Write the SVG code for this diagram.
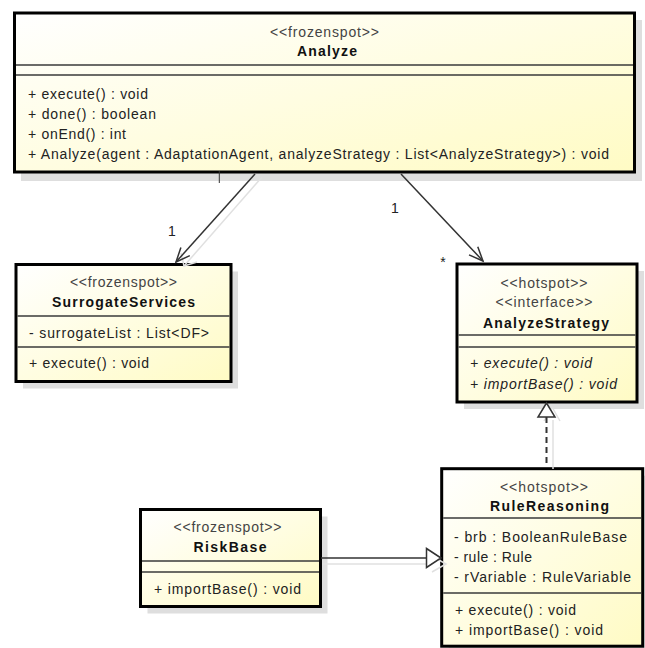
<svg xmlns="http://www.w3.org/2000/svg" width="645" height="648" viewBox="0 0 645 648">
<defs>
<linearGradient id="g" x1="0" y1="0" x2="1" y2="1"><stop offset="0" stop-color="#ffffff"/><stop offset="1" stop-color="#fffbc4"/></linearGradient>
<marker id="open" markerUnits="userSpaceOnUse" markerWidth="20" markerHeight="20" refX="0" refY="0" viewBox="-16 -10 20 20" orient="auto"><path d="M-14,-6 L0,0 L-14,6" fill="none" stroke="#333" stroke-width="1.5"/></marker>
</defs>
<style>
.box{fill:url(#g);stroke:#000;stroke-width:3}
.sh{fill:#dedede}
.sep{stroke:#3a3a3a;stroke-width:1.5}
text{font-family:"Liberation Sans",Arial,sans-serif;font-size:14px;fill:#222}
.st{fill:#444}
.nm{font-weight:bold;fill:#111}
.c{text-anchor:middle}
.it{font-style:italic}
.ln{fill:none;stroke:#333;stroke-width:1.5}
.gh{fill:none;stroke:#e0e0e0;stroke-width:1.5}
.tri{fill:#fff;stroke:#333;stroke-width:1.5}
</style>
<rect width="645" height="648" fill="#fff"/>
<g id="shadows">
<rect class="sh" x="21" y="20" width="621" height="161"/>
<rect class="sh" x="23" y="271.5" width="215" height="117"/>
<rect class="sh" x="464" y="271" width="180" height="138"/>
<rect class="sh" x="147.5" y="516.5" width="180" height="97"/>
<rect class="sh" x="448.7" y="475.7" width="201" height="177"/>
</g>
<g id="Analyze">
<rect class="box" x="14.5" y="13" width="620" height="159"/>
<line class="sep" x1="16" y1="65" x2="633" y2="65"/>
<line class="sep" x1="16" y1="75" x2="633" y2="75"/>
<text class="st c" x="324.5" y="37" textLength="109">&lt;&lt;frozenspot&gt;&gt;</text>
<text class="nm c" x="327" y="56" textLength="60">Analyze</text>
<text x="28" y="99" textLength="120">+ execute() : void</text>
<text x="28" y="119" textLength="128">+ done() : boolean</text>
<text x="28" y="139" textLength="98">+ onEnd() : int</text>
<text x="28" y="159" textLength="581">+ Analyze(agent : AdaptationAgent, analyzeStrategy : List&lt;AnalyzeStrategy&gt;) : void</text>
</g>
<g id="SurrogateServices">
<rect class="box" x="16" y="264.5" width="215" height="117"/>
<line class="sep" x1="17.5" y1="316" x2="229.5" y2="316"/>
<line class="sep" x1="17.5" y1="347" x2="229.5" y2="347"/>
<text class="st c" x="123.5" y="287" textLength="107">&lt;&lt;frozenspot&gt;&gt;</text>
<text class="nm c" x="123.5" y="307" textLength="143">SurrogateServices</text>
<text x="29" y="338" textLength="180">- surrogateList : List&lt;DF&gt;</text>
<text x="29" y="368" textLength="120">+ execute() : void</text>
</g>
<g id="AnalyzeStrategy">
<rect class="box" x="457" y="264" width="180" height="138"/>
<line class="sep" x1="458.5" y1="335" x2="635.5" y2="335"/>
<line class="sep" x1="458.5" y1="347" x2="635.5" y2="347"/>
<text class="st c" x="544" y="288" textLength="87">&lt;&lt;hotspot&gt;&gt;</text>
<text class="st c" x="544" y="307" textLength="97">&lt;&lt;interface&gt;&gt;</text>
<text class="nm c" x="546" y="328" textLength="126">AnalyzeStrategy</text>
<text class="it" x="470" y="368" textLength="122">+ execute() : void</text>
<text class="it" x="470" y="389" textLength="147">+ importBase() : void</text>
</g>
<g id="RiskBase">
<rect class="box" x="140.5" y="509.5" width="180" height="97"/>
<line class="sep" x1="142" y1="561" x2="319" y2="561"/>
<line class="sep" x1="142" y1="572" x2="319" y2="572"/>
<text class="st c" x="227.5" y="532" textLength="108">&lt;&lt;frozenspot&gt;&gt;</text>
<text class="nm c" x="230" y="552" textLength="73">RiskBase</text>
<text x="154" y="594" textLength="147">+ importBase() : void</text>
</g>
<g id="RuleReasoning">
<rect class="box" x="441.7" y="468.7" width="201" height="177.5"/>
<line class="sep" x1="443.2" y1="518" x2="641.2" y2="518"/>
<line class="sep" x1="443.2" y1="593" x2="641.2" y2="593"/>
<text class="st c" x="544" y="492" textLength="88">&lt;&lt;hotspot&gt;&gt;</text>
<text class="nm c" x="549.5" y="511" textLength="119">RuleReasoning</text>
<text x="454" y="542" textLength="173">- brb : BooleanRuleBase</text>
<text x="454" y="562" textLength="78">- rule : Rule</text>
<text x="454" y="582" textLength="177">- rVariable : RuleVariable</text>
<text x="455" y="615" textLength="121">+ execute() : void</text>
<text x="455" y="635" textLength="148">+ importBase() : void</text>
</g>
<g id="connectors">
<line class="gh" x1="262" y1="177" x2="184" y2="266"/>
<path class="gh" d="M181,253 L184,266 L197,262"/>
<line class="ln" x1="255" y1="174" x2="176" y2="262" marker-end="url(#open)"/>
<line x1="219.3" y1="171" x2="219.3" y2="183" stroke="#333" stroke-width="1"/>
<text class="c" x="172" y="236">1</text>
<line class="ln" x1="401" y1="174" x2="483" y2="261" marker-end="url(#open)"/>
<text class="c" x="395" y="213">1</text>
<text class="c" x="443" y="267">*</text>
<line class="gh" x1="553" y1="420" x2="553" y2="469"/>
<path class="gh" d="M544,421 L552,407 L560,421"/>
<line x1="546.5" y1="417" x2="546.5" y2="468" stroke="#333" stroke-width="2" stroke-dasharray="6 4"/>
<polygon class="tri" points="546.5,403 538,417 555,417"/>
<line class="gh" x1="322" y1="564" x2="430" y2="564"/>
<path class="gh" d="M432,556 L446,564 L432,572"/>
<line class="ln" x1="321" y1="558" x2="426.5" y2="558"/>
<polygon class="tri" points="441,558 426.5,548.5 426.5,567.5"/>
</g>
</svg>
